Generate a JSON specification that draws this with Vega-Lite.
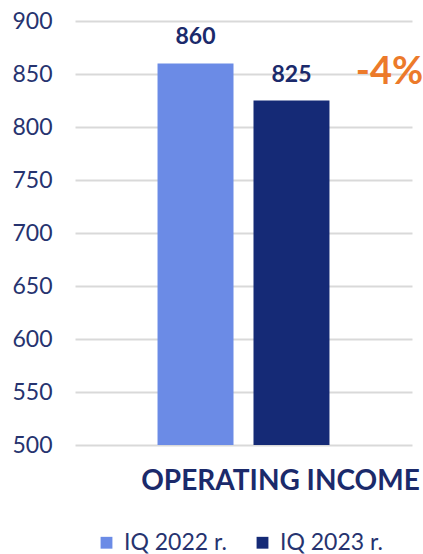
{
  "$schema": "https://vega.github.io/schema/vega-lite/v6.json",
  "width": 337,
  "height": 424,
  "autosize": {"type": "none"},
  "padding": {"left": 75, "top": 21, "right": 11, "bottom": 109},
  "config": {"view": {"stroke": null}, "font": "Lato"},
  "data": {
    "values": [
      {"cat": "OPERATING INCOME", "series": "IQ 2022 r.", "value": 860},
      {"cat": "OPERATING INCOME", "series": "IQ 2023 r.", "value": 825}
    ]
  },
  "layer": [
    {
      "mark": {"type": "bar"},
      "encoding": {
        "x": {
          "field": "cat",
          "type": "nominal",
          "scale": {"paddingInner": 0, "paddingOuter": 0.48},
          "axis": {
            "title": null,
            "labelAngle": 0,
            "domain": false,
            "ticks": false,
            "labelFont": "Lato",
            "labelFontWeight": "bold",
            "labelFontSize": 28,
            "labelColor": "#1b2a6b",
            "labelPadding": 22,
            "labelOffset": 37,
            "labelLimit": 0,
            "labelBaseline": "top"
          }
        },
        "xOffset": {
          "field": "series",
          "scale": {"paddingInner": 0.2083, "paddingOuter": 0}
        },
        "y": {
          "field": "value",
          "type": "quantitative",
          "scale": {"domain": [500, 900], "zero": false, "nice": false},
          "axis": {
            "title": null,
            "values": [500, 550, 600, 650, 700, 750, 800, 850, 900],
            "domain": false,
            "ticks": false,
            "grid": true,
            "gridColor": "#d9d9d9",
            "gridWidth": 2,
            "labelFont": "Lato",
            "labelFontSize": 23,
            "labelFontWeight": 400,
            "labelColor": "#26336f",
            "labelPadding": 23
          }
        },
        "y2": {"datum": 500},
        "color": {
          "field": "series",
          "type": "nominal",
          "scale": {"range": ["#6b8be6", "#152a76"]},
          "legend": {
            "title": null,
            "orient": "none",
            "direction": "horizontal",
            "legendX": 20,
            "legendY": 510,
            "symbolType": "square",
            "symbolSize": 140,
            "symbolStrokeWidth": 0,
            "labelFont": "Lato",
            "labelFontSize": 23,
            "labelFontWeight": 400,
            "labelColor": "#26336f",
            "labelOffset": 6,
            "columnPadding": 24,
            "labelLimit": 0
          }
        }
      }
    },
    {
      "mark": {"type": "text", "baseline": "bottom", "dy": -14, "fontWeight": "bold", "fontSize": 23, "font": "Lato", "color": "#1b2a6b"},
      "encoding": {
        "x": {"field": "cat", "type": "nominal"},
        "xOffset": {"field": "series"},
        "y": {"field": "value", "type": "quantitative"},
        "text": {"field": "value", "type": "quantitative"}
      }
    },
    {
      "data": {"values": [{"cat": "OPERATING INCOME", "label": "-4%", "value": 851}]},
      "mark": {"type": "text", "baseline": "middle", "align": "center", "dx": 146, "fontWeight": "bold", "fontSize": 38, "font": "Lato", "color": "#ec7a2a"},
      "encoding": {
        "x": {"field": "cat", "type": "nominal"},
        "y": {"field": "value", "type": "quantitative"},
        "text": {"field": "label"}
      }
    }
  ]
}
